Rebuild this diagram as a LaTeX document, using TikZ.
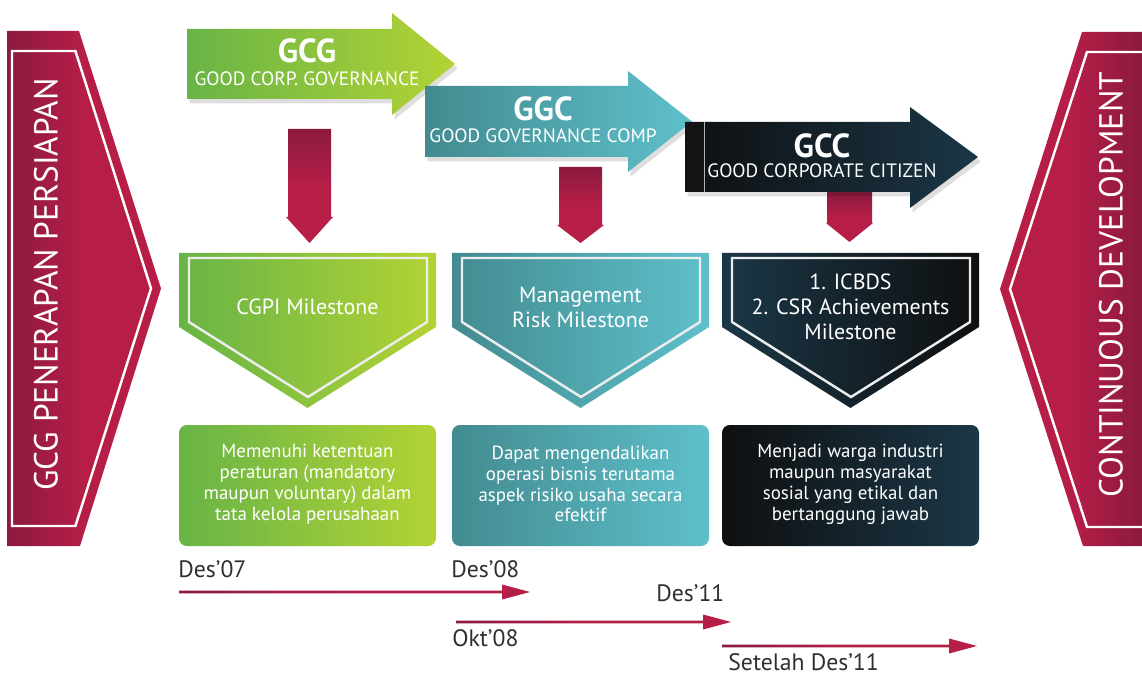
\documentclass[tikz,border=0pt]{standalone}
\usepackage{fontspec}
\setmainfont{PT Sans}
\definecolor{crimson}{HTML}{B61E48}
\definecolor{crimsondk}{HTML}{8B1A3D}
\definecolor{greenL}{HTML}{68B446}
\definecolor{greenR}{HTML}{B3D335}
\definecolor{tealL}{HTML}{438B90}
\definecolor{tealR}{HTML}{5EC0CB}
\definecolor{inkL}{HTML}{0E0F10}
\definecolor{inkR}{HTML}{1B3747}
\definecolor{datetext}{HTML}{2F2F2F}
\tikzset{
  bannertext/.style={white,rotate=90,inner sep=0pt,font=\fontsize{19}{22}\selectfont},
  titletext/.style={white,anchor=base,inner sep=0pt,font=\bfseries\fontsize{19}{22}\selectfont},
  subtext/.style={white,anchor=base,inner sep=0pt,font=\fontsize{11}{13}\selectfont},
  milestonetext/.style={white,align=center,inner sep=0pt,font=\fontsize{12.5}{14.2}\selectfont},
  goaltext/.style={white,align=center,inner sep=0pt,font=\fontsize{10.8}{11.9}\selectfont},
  datelabel/.style={datetext,anchor=base west,inner sep=0pt,font=\fontsize{13.5}{15}\selectfont},
  milestoneline/.style={draw=white!93!black,line width=1.4pt},
  shadowed/.style={preaction={fill=black,opacity=.13,transform canvas={shift={(1.5pt,-2.5pt)}}}},
  downarrow/.style={top color=crimsondk,bottom color=crimson,middle color=crimson},
  timearrow/.style={left color=crimsondk,right color=crimson,middle color=crimson}
}
\begin{document}
\begin{tikzpicture}[x=0.02cm,y=-0.02cm]
\useasboundingbox (0,0) rectangle (1142,675);

% side banners
\shade[left color=crimsondk,right color=crimson,middle color=crimson] (7,31) -- (79,31) -- (161,288.5) -- (80,546) -- (7,546) -- cycle;
\draw[white,line width=1.4pt] (12,51) -- (75.4,51) -- (151,288.5) -- (75.4,526) -- (12,526) -- cycle;
\node[bannertext] (prep) at (46,284.5) {GCG PENERAPAN PERSIAPAN};

\shade[left color=crimson,right color=crimsondk,middle color=crimson] (1142,32) -- (1082,32) -- (1000,289) -- (1083,546) -- (1142,546) -- cycle;
\draw[white,line width=1.4pt] (1142,52) -- (1087,52) -- (1010,289) -- (1087,527) -- (1142,527);
\node[bannertext] (cont) at (1111,284.5) {CONTINUOUS DEVELOPMENT};

% down arrows
\shade[downarrow] (288,129) -- (331,129) -- (331,217) -- (333,217) -- (309.5,243) -- (286,217) -- (288,217) -- cycle;
\shade[downarrow] (559,167) -- (602,167) -- (602,225) -- (604,225) -- (580.5,243) -- (557,225) -- (559,225) -- cycle;
\shade[downarrow] (827,192) -- (872,192) -- (872,223) -- (873,223) -- (849.5,242) -- (826,223) -- (827,223) -- cycle;

% top arrows
\shade[shadowed,left color=greenL,right color=greenR] (187,29) -- (392,29) -- (392,13) -- (455,64) -- (392,115) -- (392,99) -- (187,99) -- cycle;
\node[titletext] (gcg) at (307,63) {GCG};
\node[subtext] (gcgsub) at (307,86) {GOOD CORP. GOVERNANCE};

\shade[shadowed,left color=tealL,right color=tealR] (425,86) -- (628,86) -- (628,71) -- (692,121.5) -- (628,172) -- (628,157) -- (425,157) -- cycle;
\node[titletext] (ggc) at (543,121) {GGC};
\node[subtext] (ggcsub) at (543,143) {GOOD GOVERNANCE COMP};

\shade[shadowed,left color=inkL,right color=inkR] (685,122) -- (910,122) -- (910,107) -- (978,157) -- (910,208) -- (910,192) -- (685,192) -- cycle;
\fill[black!92] (685,122) rectangle (704,192);
\draw[gray!60,line width=0.4pt] (704,122) -- (704,192);
\node[titletext] (gcc) at (822,158) {GCC};
\node[subtext] (gccsub) at (822,178) {GOOD CORPORATE CITIZEN};

% milestones and goals
\foreach \x/\cl/\cr/\bl/\br in {179/greenL/greenR/greenL/greenR,452/tealL/tealR/tealL/tealR,722/inkR/inkL/inkL/inkR}
{
  \shade[left color=\cl,right color=\cr] (\x,253) -- ++(257,0) -- ++(0,74) -- ++(-128.5,81) -- ++(-128.5,-81) -- cycle;
  \draw[milestoneline] (\x+10,258) -- ++(238,0) -- ++(0,64) -- ++(-119,75) -- ++(-119,-75) -- cycle;
  \shade[left color=\bl,right color=\br,rounded corners=4.5pt] (\x,425) rectangle ++(257,121);
}
\node[milestonetext] (ms1) at (307.5,307) {CGPI Milestone};
\node[milestonetext] (ms2) at (580.5,307) {Management\\Risk Milestone};
\node[milestonetext] (ms3) at (850.5,307) {1. ICBDS\\2. CSR Achievements\\Milestone};

\node[goaltext] (goal1) at (307.5,484) {Memenuhi ketentuan\\peraturan (mandatory\\maupun voluntary) dalam\\tata kelola perusahaan};
\node[goaltext] (goal2) at (580.5,484) {Dapat mengendalikan\\operasi bisnis terutama\\aspek risiko usaha secara\\efektif};
\node[goaltext] (goal3) at (850.5,484) {Menjadi warga industri\\maupun masyarakat\\sosial yang etikal dan\\bertanggung jawab};

% timeline
\foreach \a/\b/\y in {179/530/592,456/731/622,722/977/646}
  \shade[timearrow] (\a,\y-1.3) -- (\b-28,\y-1.3) -- (\b-28,\y-7.5) -- (\b,\y) -- (\b-28,\y+7.5) -- (\b-28,\y+1.3) -- (\a,\y+1.3) -- cycle;

\node[datelabel] (d07) at (178,577) {Des’07};
\node[datelabel] (d08) at (451,577) {Des’08};
\node[datelabel] (d11) at (656,601) {Des’11};
\node[datelabel] (o08) at (452,646) {Okt’08};
\node[datelabel] (s11) at (728,670) {Setelah Des’11};
\end{tikzpicture}
\end{document}
